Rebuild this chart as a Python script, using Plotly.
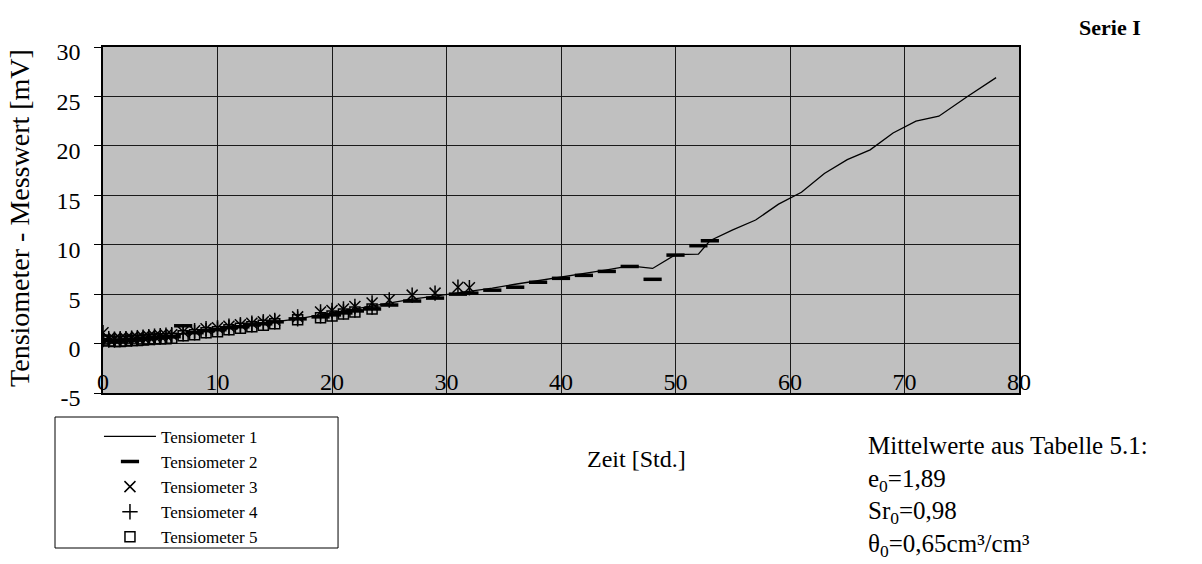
import plotly.graph_objects as go

# ---------------- data ----------------
t_tens1 = [0, 0.5, 1, 1.5, 2, 2.5, 3, 3.5, 4, 4.5, 5, 5.5, 6,
           7, 8, 9, 10, 11, 12, 13, 14, 15,
           17, 19, 20, 21, 22, 23.5, 25, 27, 29, 31, 32,
           34, 36, 38, 40, 42, 44, 46, 48, 50, 52, 53,
           55, 57, 59, 61, 63, 65, 67, 69, 71, 73, 75.5, 78]
v_tens1 = [0.3, 0.3, 0.3, 0.35, 0.4, 0.4, 0.45, 0.5, 0.55, 0.6, 0.65, 0.7, 0.8,
           1.0, 1.1, 1.3, 1.45, 1.6, 1.75, 1.9, 2.05, 2.2,
           2.5, 2.9, 3.1, 3.3, 3.5, 3.8, 4.1, 4.5, 4.8, 5.1, 5.25,
           5.6, 6.0, 6.35, 6.7, 7.05, 7.45, 7.85, 7.6, 9.0, 9.05, 10.4,
           11.5, 12.5, 14.1, 15.3, 17.2, 18.6, 19.6, 21.3, 22.5, 23.0, 25.0, 26.9]

t_tens2 = [0, 0.5, 1, 1.5, 2, 2.5, 3, 3.5, 4, 4.5, 5, 5.5, 6,
           7, 8, 9, 10, 11, 12, 13, 14, 15,
           17, 19, 20, 21, 22, 23.5, 25, 27, 29, 31, 32,
           34, 36, 38, 40, 42, 44, 46, 48, 50, 52, 53]
v_tens2 = [0.4, 0.3, 0.3, 0.35, 0.3, 0.4, 0.45, 0.5, 0.55, 0.6, 0.65, 0.7, 0.7,
           1.8, 1.1, 1.3, 1.4, 1.6, 1.7, 1.9, 2.0, 2.2,
           2.5, 2.7, 2.9, 3.1, 3.3, 3.5, 3.9, 4.3, 4.6, 5.0, 5.1,
           5.4, 5.7, 6.2, 6.6, 6.9, 7.3, 7.8, 6.5, 8.95, 9.9, 10.4]

t_tens3 = [0, 0.5, 1, 1.5, 2, 2.5, 3, 3.5, 4, 4.5, 5, 5.5, 6,
           7, 8, 9, 10, 11, 12, 13, 14, 15,
           17, 19, 20, 21, 22, 23.5, 25, 27, 29, 31, 32]
v_tens3 = [1.1, 0.5, 0.45, 0.5, 0.5, 0.55, 0.6, 0.65, 0.7, 0.75, 0.8, 0.85, 0.9,
           1.2, 1.3, 1.5, 1.6, 1.75, 1.9, 2.05, 2.2, 2.35,
           2.7, 3.2, 3.35, 3.5, 3.75, 4.1, 4.4, 4.9, 5.1, 5.7, 5.65]

t_tens4 = [0, 0.5, 1, 1.5, 2, 2.5, 3, 3.5, 4, 4.5, 5, 5.5, 6,
           7, 8, 9, 10, 11, 12, 13, 14, 15,
           17, 19, 20, 21, 22, 23.5]
v_tens4 = [0.4, 0.35, 0.35, 0.4, 0.45, 0.45, 0.5, 0.55, 0.6, 0.6, 0.65, 0.7, 0.8,
           1.0, 1.1, 1.3, 1.45, 1.6, 1.75, 1.9, 2.05, 2.2,
           2.5, 2.8, 3.0, 3.2, 3.4, 3.7]

t_tens5 = [0, 0.5, 1, 1.5, 2, 2.5, 3, 3.5, 4, 4.5, 5, 5.5, 6,
           7, 8, 9, 10, 11, 12, 13, 14, 15,
           17, 19, 20, 21, 22, 23.5]
v_tens5 = [0.35, 0.25, 0.2, 0.2, 0.25, 0.3, 0.3, 0.35, 0.4, 0.45, 0.5, 0.5, 0.55,
           0.8, 0.9, 1.1, 1.2, 1.4, 1.55, 1.7, 1.85, 2.0,
           2.4, 2.6, 2.8, 3.0, 3.2, 3.5]

series_names = ["Tensiometer 1", "Tensiometer 2", "Tensiometer 3",
                "Tensiometer 4", "Tensiometer 5"]
x_ticks = [0, 10, 20, 30, 40, 50, 60, 70, 80]
y_ticks = [-5, 0, 5, 10, 15, 20, 25, 30]

# ---------------- figure ----------------
FONT = "Liberation Serif, Times New Roman, serif"
fig = go.Figure()

fig.add_trace(go.Scatter(
    x=t_tens1, y=v_tens1, mode="lines", name=series_names[0],
    line=dict(color="black", width=1.3)))
fig.add_trace(go.Scatter(
    x=t_tens2, y=v_tens2, mode="markers", name=series_names[1],
    marker=dict(symbol="line-ew-open", size=13, color="black",
                line=dict(color="black", width=3.5))))
fig.add_trace(go.Scatter(
    x=t_tens3, y=v_tens3, mode="markers", name=series_names[2],
    marker=dict(symbol="x-thin-open", size=11, color="black",
                line=dict(color="black", width=1.5))))
fig.add_trace(go.Scatter(
    x=t_tens3, y=v_tens3, mode="markers", name=series_names[2],
    showlegend=False, hoverinfo="skip",
    marker=dict(symbol="line-ns-open", size=11, color="black",
                line=dict(color="black", width=1.5))))
fig.add_trace(go.Scatter(
    x=t_tens4, y=v_tens4, mode="markers", name=series_names[3],
    marker=dict(symbol="cross-thin-open", size=11, color="black",
                line=dict(color="black", width=1.5))))
fig.add_trace(go.Scatter(
    x=t_tens5, y=v_tens5, mode="markers", name=series_names[4],
    marker=dict(symbol="square-open", size=10, color="black",
                line=dict(color="black", width=1.5))))

fig.update_layout(
    width=1202, height=564,
    margin=dict(l=103, r=183, t=47, b=171, autoexpand=False),
    paper_bgcolor="white", plot_bgcolor="#C0C0C0",
    font=dict(family=FONT, color="black", size=20),
    showlegend=True,
    legend=dict(
        x=-0.0044, y=-0.0747, xanchor="left", yanchor="top",
        bgcolor="rgba(0,0,0,0)", borderwidth=0,
        font=dict(family=FONT, size=17, color="black"),
        itemwidth=52, tracegroupgap=0,
    ),
)

fig.update_xaxes(
    range=[0, 80], tickvals=x_ticks, ticktext=[str(v) for v in x_ticks],
    showgrid=True, gridcolor="#1a1a1a", gridwidth=1,
    zeroline=False, showline=True, linecolor="black", linewidth=1.5,
    mirror=True, ticks="", ticklabelposition="inside",
    ticklabeloverflow="allow",
    tickfont=dict(family=FONT, size=24, color="black"),
)
fig.update_yaxes(
    range=[-5, 30], tickvals=y_ticks, ticktext=[str(v) for v in y_ticks],
    showgrid=True, gridcolor="#1a1a1a", gridwidth=1,
    zeroline=False, showline=True, linecolor="black", linewidth=1.5,
    mirror=True, ticks="outside", ticklen=7, tickcolor="black",
    ticklabelstandoff=9, ticklabelshift=5,
    tickfont=dict(family=FONT, size=24, color="black"),
)

# legend frame
fig.add_shape(type="rect", xref="paper", yref="paper",
              x0=-0.0524, x1=0.2566, y0=-0.0694, y1=-0.448,
              line=dict(color="black", width=1), fillcolor="rgba(0,0,0,0)")

# texts
fig.add_annotation(text="Tensiometer - Messwert [mV]", xref="paper", yref="paper",
                   x=-0.0906, y=0.506, xanchor="center", yanchor="middle",
                   textangle=-90, showarrow=False,
                   font=dict(family=FONT, size=28, color="black"))
fig.add_annotation(text="Zeit [Std.]", xref="paper", yref="paper",
                   x=0.582, y=-0.19, xanchor="center", yanchor="middle",
                   showarrow=False, font=dict(family=FONT, size=24, color="black"))
fig.add_annotation(text="<b>Serie I</b>", xref="paper", yref="paper",
                   x=1.099, y=1.055, xanchor="center", yanchor="middle",
                   showarrow=False, font=dict(family=FONT, size=22, color="black"))
fig.add_annotation(
    text="Mittelwerte aus Tabelle 5.1:<br>e<sub>0</sub>=1,89<br>Sr<sub>0</sub>=0,98"
         "<br>θ<sub>0</sub>=0,65cm³/cm³",
    xref="paper", yref="paper", x=0.833, y=-0.1067,
    xanchor="left", yanchor="top", align="left", showarrow=False,
    font=dict(family=FONT, size=25, color="black"))

fig.write_html("out.html")
